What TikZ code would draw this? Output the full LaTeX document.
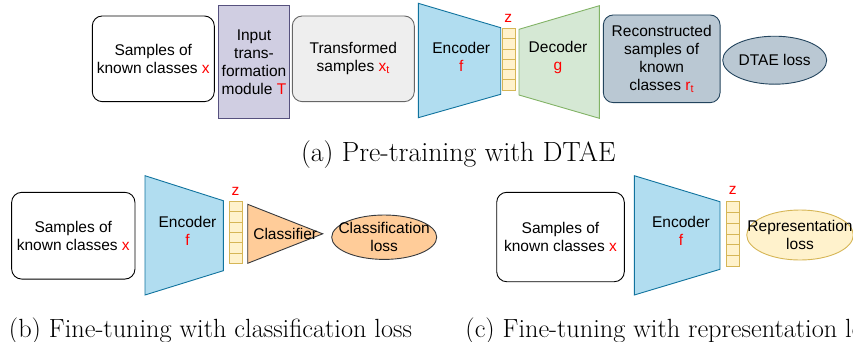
\documentclass[tikz,border=0pt]{standalone}
\usepackage{fontspec}
\setsansfont{Liberation Sans}
\usepackage{xcolor}
\usepackage{tikz}
\usetikzlibrary{shapes.geometric,positioning}
\definecolor{encfill}{HTML}{B1DDF0}
\definecolor{encline}{HTML}{10739E}
\definecolor{decfill}{HTML}{D5E8D4}
\definecolor{decline}{HTML}{82B366}
\definecolor{zfill}{HTML}{FFF2CC}
\definecolor{zline}{HTML}{D6B656}
\definecolor{modfill}{HTML}{D0CEE2}
\definecolor{modline}{HTML}{56517E}
\definecolor{grayfill}{HTML}{EEEEEE}
\definecolor{grayline}{HTML}{666666}
\definecolor{recfill}{HTML}{BAC8D3}
\definecolor{recline}{HTML}{23445D}
\definecolor{clsfill}{HTML}{FFCC99}
\definecolor{clsline}{HTML}{36393D}
\newcommand{\redtxt}[1]{\textcolor{red}{#1}}

\begin{document}
\begin{tikzpicture}[x=1pt, y=-1pt, line width=0.9pt,
  font=\sffamily\fontsize{15.5}{18}\selectfont,
  box/.style={draw, rounded corners=10pt, align=center, inner sep=0pt},
  txt/.style={align=center, inner sep=0pt},
  enc/.style={draw=encline, fill=encfill},
  zcell/.style={draw=zline, fill=zfill, line width=0.7pt},
  subcap/.style={font=\rmfamily\fontsize{26.3}{31}\selectfont, inner sep=0pt}]
\clip (0,0) rectangle (853,341);
% (a)
\node[box, minimum width=122pt, minimum height=85.7pt] (sa) at (153.3,58.8) {Samples of\\known classes \redtxt{x}};
\node[box, rounded corners=0pt, draw=modline, fill=modfill, minimum width=70.6pt, minimum height=112.6pt] (tm) at (254,62) {Input\\trans-\\formation\\module \redtxt{T}};
\node[box, draw=grayline, fill=grayfill, minimum width=122pt, minimum height=85.7pt] (ts) at (353.3,58.8) {Transformed\\samples \redtxt{x\textsubscript{t}}};
\draw[enc] (418.3,3.3) -- (500.7,27.7) -- (500.7,94.3) -- (418.3,117.7) -- cycle;
\node[txt] (ea) at (461.2,57) {Encoder\\\redtxt{f}};
\begin{scope}[shift={(502.3,28.3)}]
\foreach \i in {0,...,5} \draw[zcell] (0,\i*10.28) rectangle ++(13.4,10.28);
\end{scope}
\node[txt] (za) at (508.3,18.3) {\redtxt{z}};
\draw[draw=decline, fill=decfill] (519,29.3) -- (599.3,5.7) -- (599.3,118.3) -- (519,95) -- cycle;
\node[txt] (da) at (558,57) {Decoder\\\redtxt{g}};
\node[box, draw=recline, fill=recfill, minimum width=116.7pt, minimum height=87.7pt] (ra) at (661.7,58.8) {Reconstructed\\samples of\\known\\classes \redtxt{r\textsubscript{t}}};
\draw[draw=recline, fill=recfill] (774.7,60.2) ellipse [x radius=52pt, y radius=24pt];
\node[txt] (la) at (774.7,60.2) {DTAE loss};
\node[subcap, font=\rmfamily\fontsize{27.8}{32}\selectfont] (capa) at (458.3,155) {(a) Pre-training with DTAE};
% (b)
\node[box, minimum width=123.3pt, minimum height=86.7pt] (sb) at (73.3,235.7) {Samples of\\known classes \redtxt{x}};
\draw[enc] (145,175.7) -- (223.3,200.7) -- (223.3,270.7) -- (145,295) -- cycle;
\node[txt] (eb) at (187.5,231) {Encoder\\\redtxt{f}};
\begin{scope}[shift={(229.3,201.3)}]
\foreach \i in {0,...,5} \draw[zcell] (0,\i*10.33) rectangle ++(13,10.33);
\end{scope}
\node[txt] (zb) at (235.5,191.7) {\redtxt{z}};
\draw[draw=clsline, fill=clsfill] (247.7,204.3) -- (322.7,233.8) -- (247.7,263.3) -- cycle;
\node[txt] (cl) at (285.2,233.8) {Classifier};
\draw[draw=clsline, fill=clsfill] (384.2,237.2) ellipse [x radius=52.5pt, y radius=22.2pt];
\node[txt] (lb) at (384.2,236.5) {Classification\\loss};
\node[subcap] (capb) at (210.5,331) {(b) Fine-tuning with classification loss};
% (c)
\node[box, minimum width=127.6pt, minimum height=89.4pt] (sc) at (560.5,237) {Samples of\\known classes \redtxt{x}};
\draw[enc] (634.3,175.7) -- (720,201.7) -- (720,269.3) -- (634.3,295) -- cycle;
\node[txt] (ec) at (681,231) {Encoder\\\redtxt{f}};
\begin{scope}[shift={(726,201.7)}]
\foreach \i in {0,...,5} \draw[zcell] (0,\i*10.72) rectangle ++(13.3,10.72);
\end{scope}
\node[txt] (zc) at (732.7,190) {\redtxt{z}};
\draw[draw=zline, fill=zfill] (800,235) ellipse [x radius=53.3pt, y radius=25pt];
\node[txt] (lc) at (800,234.5) {Representation\\loss};
\node[subcap, anchor=west] (capc) at (465,331) {(c) Fine-tuning with representation loss};
\end{tikzpicture}
\end{document}
